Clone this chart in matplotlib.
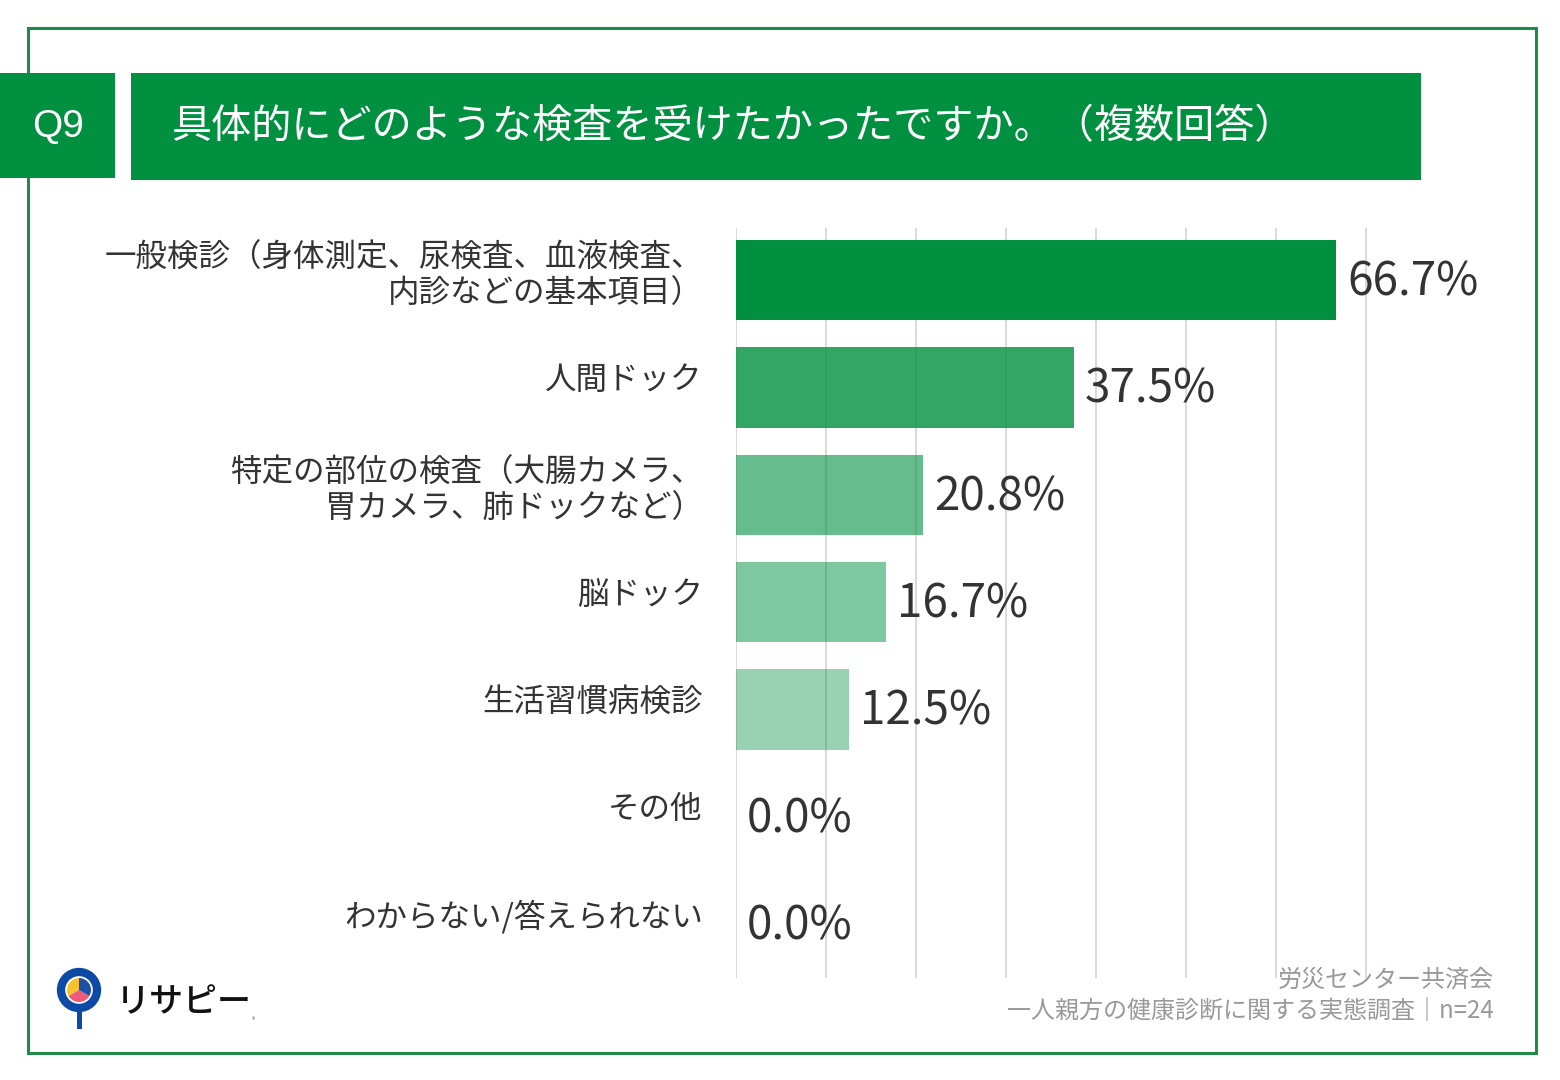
import matplotlib
matplotlib.use("Agg")
import matplotlib.pyplot as plt
from matplotlib.patches import Rectangle, Circle, Wedge
import numpy as np

plt.rcParams['font.family'] = ['Noto Sans CJK JP', 'DejaVu Sans']

categories = [
    "一般検診（身体測定、尿検査、血液検査、\n内診などの基本項目）",
    "人間ドック",
    "特定の部位の検査（大腸カメラ、\n胃カメラ、肺ドックなど）",
    "脳ドック",
    "生活習慣病検診",
    "その他",
    "わからない/答えられない",
]
values = [66.7, 37.5, 20.8, 16.7, 12.5, 0.0, 0.0]
alphas = [1.0, 0.8, 0.6, 0.5, 0.4, 0.3, 0.3]

green = "#00903f"
W, H = 1560, 1080

fig = plt.figure(figsize=(15.6, 10.8), dpi=100)

def fx(px):
    return px / W

def fy(py):
    return 1 - py / H

# outer frame
fig.patches.append(Rectangle((fx(28), fy(1053)), fx(1536) - fx(28), fy(28) - fy(1053),
                             transform=fig.transFigure, fill=False, ec="#1f8a4c", lw=2.2))
# title boxes
fig.patches.append(Rectangle((0, fy(178)), fx(115), fy(73) - fy(178),
                             transform=fig.transFigure, fc=green, ec="none"))
fig.patches.append(Rectangle((fx(131), fy(180)), fx(1421) - fx(131), fy(73) - fy(180),
                             transform=fig.transFigure, fc=green, ec="none"))
fig.text(fx(58), fy(127), "Q9", color="white", fontsize=28, ha="center", va="center",
         family=["Liberation Sans", "DejaVu Sans"])
fig.text(fx(172), fy(127), "具体的にどのような検査を受けたかったですか。（複数回答）",
         color="white", fontsize=28.9, ha="left", va="center")

# chart
ax = fig.add_axes([fx(736), fy(978), fx(720), fy(228) - fy(978)])
y = np.arange(len(categories))
for yi, v, a, cat in zip(y, values, alphas, categories):
    ax.barh(yi, v, height=0.75, color=green, alpha=a, zorder=3)
    ax.annotate(f"{v:.1f}%", (v, yi), xytext=(8, -1.5), textcoords="offset points",
                ha="left", va="center", fontsize=33, color="#333333")
    dy = 3.0 if "\n" in cat else 5.5
    ax.annotate(cat, (0, yi), xycoords=("axes fraction", "data"), xytext=(-24, dy),
                textcoords="offset points", ha="right", va="center", fontsize=22.7,
                color="#333333", linespacing=1.15, annotation_clip=False)
ax.set_xlim(0, 80)
ax.set_ylim(6.5, -0.485)
ax.set_xticks(np.arange(0, 71, 10))
ax.xaxis.grid(True, color="#d9d9d9", lw=1.4, zorder=0)
ax.tick_params(axis="both", length=0, labelbottom=False, labelleft=False)
ax.set_yticks([])
for s in ax.spines.values():
    s.set_visible(False)

# footer
fig.text(fx(1494), fy(980), "労災センター共済会", color="#999999", fontsize=17.3,
         ha="right", va="center")
fig.text(fx(1494), fy(1011), "一人親方の健康診断に関する実態調査｜n=24", color="#999999",
         fontsize=17.3, ha="right", va="center")

# logo
lax = fig.add_axes([fx(50), fy(1032), fx(60), fy(966) - fy(1032)])
lax.set_xlim(0, 60)
lax.set_ylim(0, 66)
lax.set_aspect("equal")
lax.axis("off")
cx, cy = 29, 42
lax.add_patch(Wedge((cx, cy), 12, 90, 210, fc="#f5c12e", ec="none"))
lax.add_patch(Wedge((cx, cy), 12, 210, 330, fc="#ee5a7a", ec="none"))
lax.add_patch(Wedge((cx, cy), 12, 330, 450, fc="#1b4fa8", ec="none"))
lax.add_patch(Circle((cx, cy), 18, fill=False, ec="#0c4aa6", lw=6))
lax.add_patch(Rectangle((cx - 2.5, 3), 5, 19, fc="#0c4aa6", ec="none"))
fig.text(fx(116), fy(1003), "リサピー", fontsize=24.5, fontweight="medium", color="#111111",
         ha="left", va="center")
fig.text(fx(254), fy(1020), "®", fontsize=5, color="#555555", ha="center", va="center")

fig.savefig("out.png", dpi=100)
